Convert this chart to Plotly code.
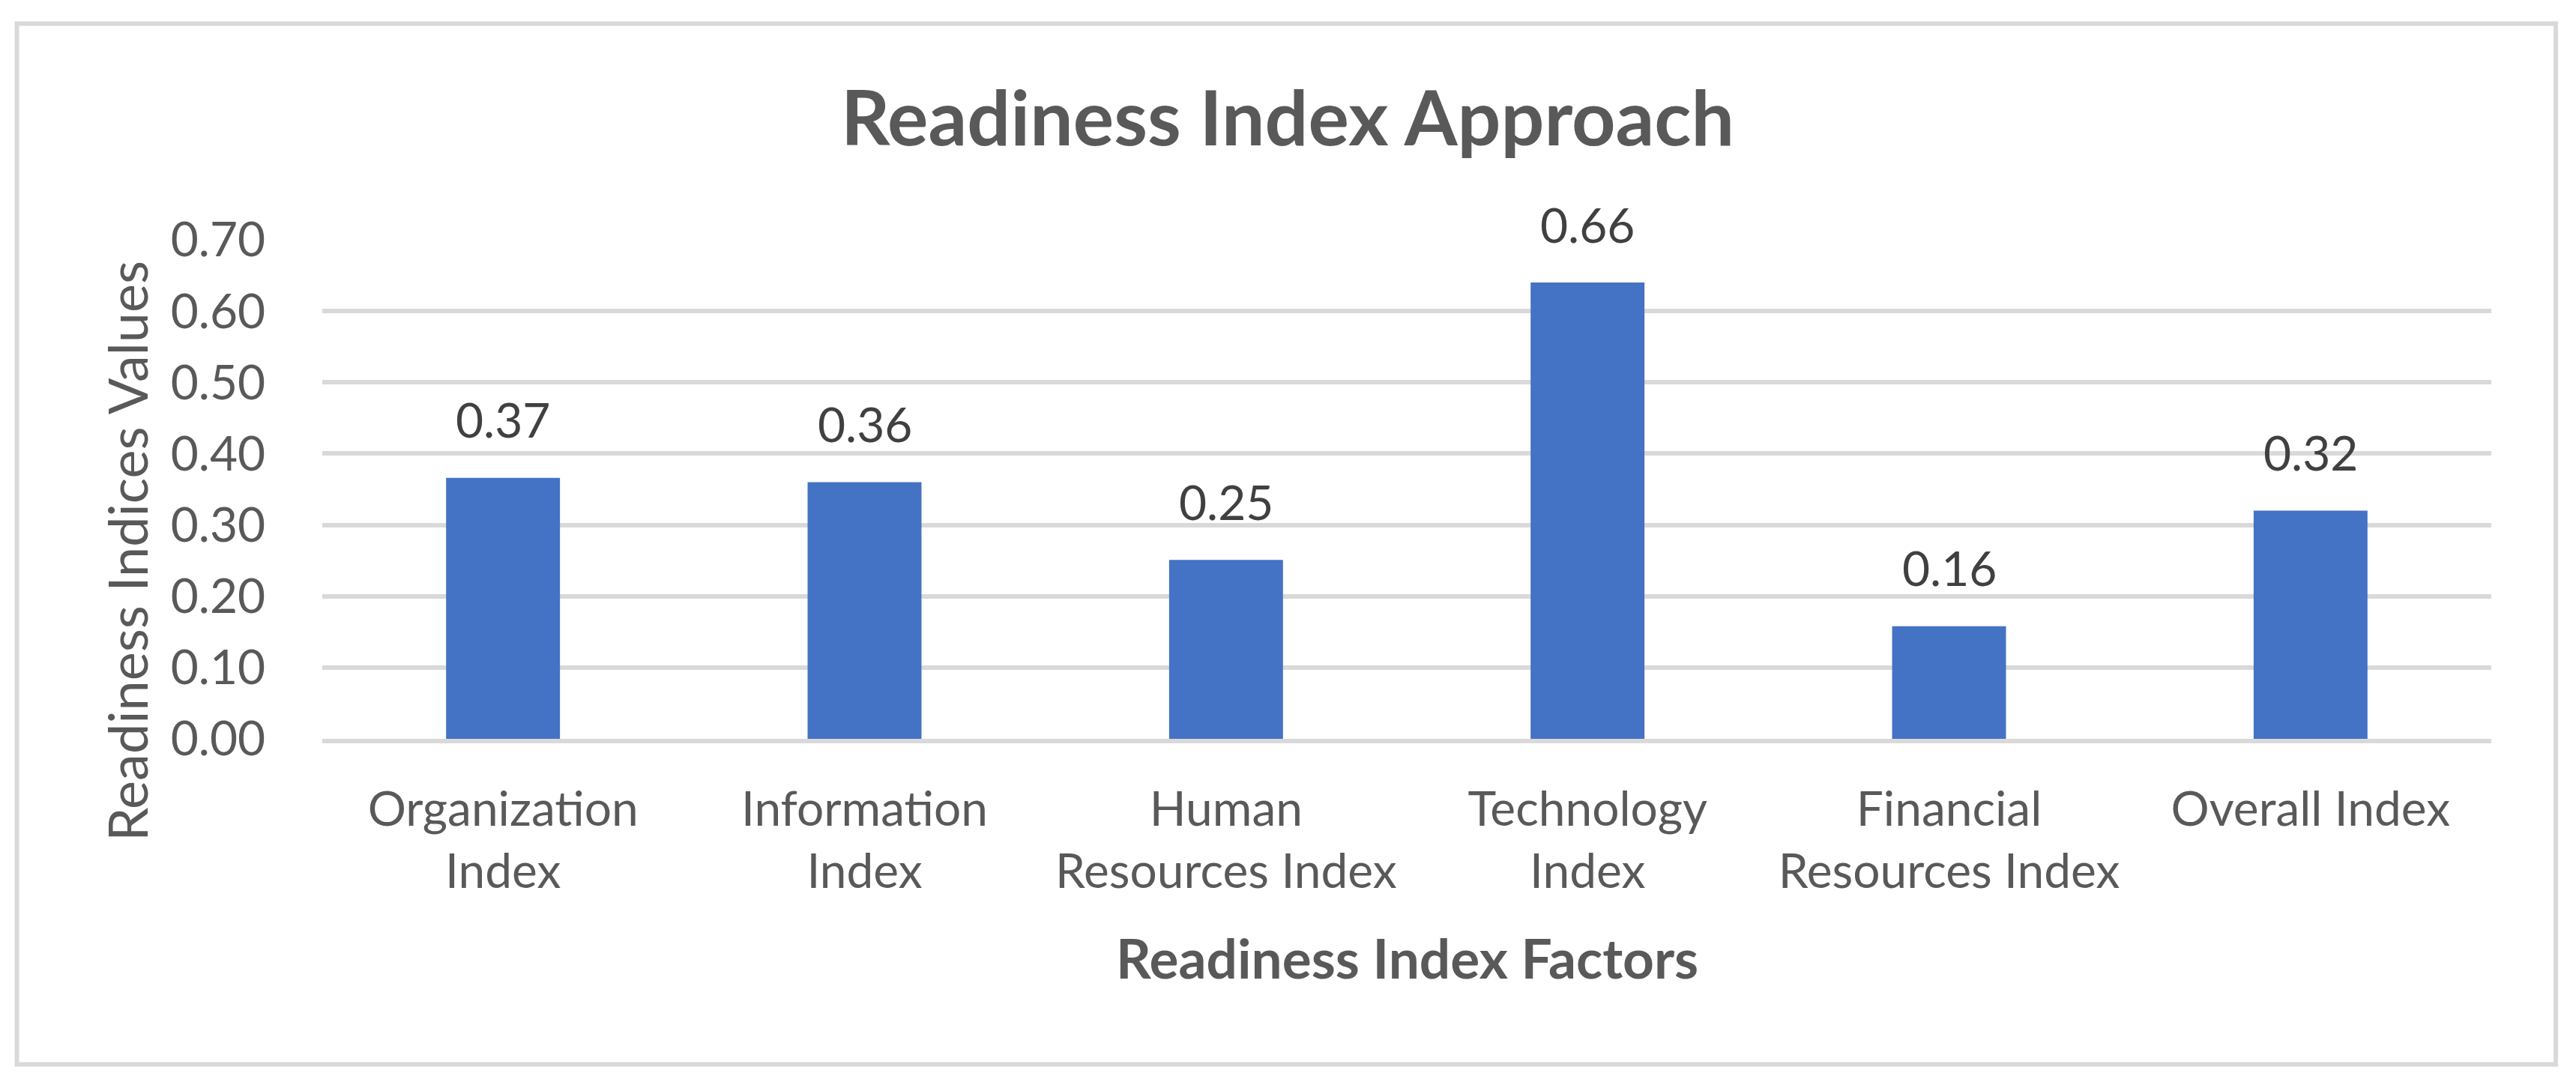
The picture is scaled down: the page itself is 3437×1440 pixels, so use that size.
import plotly.graph_objects as go

categories = ["Organization<br>Index", "Information<br>Index", "Human<br>Resources Index",
              "Technology<br>Index", "Financial<br>Resources Index", "Overall Index"]
values = [0.366, 0.360, 0.251, 0.640, 0.158, 0.320]
labels = ["0.37", "0.36", "0.25", "0.66", "0.16", "0.32"]
y_ticks = [0.0, 0.1, 0.2, 0.3, 0.4, 0.5, 0.6, 0.7]

FONT = "Lato"
GREY = "#595959"

fig = go.Figure()
fig.add_trace(go.Bar(x=categories, y=values, marker_color="#4472C4",
                     marker_line_width=0, hoverinfo="skip"))

for c, v, t in zip(categories, values, labels):
    fig.add_annotation(x=c, y=v, text=t, showarrow=False, yanchor="middle",
                       yshift=78, font=dict(family=FONT, size=64, color="#404040"))

# y axis title
fig.add_annotation(xref="paper", yref="paper", x=-0.0905, y=0.376, text="Readiness Indices Values",
                   textangle=-90, showarrow=False, xanchor="center", yanchor="middle",
                   font=dict(family=FONT, size=72, color=GREY))
# x axis title
fig.add_annotation(xref="paper", yref="paper", x=0.5, y=-0.4377, text="<b>Readiness Index Factors</b>",
                   showarrow=False, xanchor="center", yanchor="middle",
                   font=dict(family=FONT, size=73, color=GREY))

# outer chart border
fig.add_shape(type="rect", xref="paper", yref="paper", x0=-0.1408, x1=1.0297, y0=-0.6524, y1=1.4332,
              line=dict(color="#D9D9D9", width=6), fillcolor="rgba(0,0,0,0)", layer="below")

fig.update_layout(
    width=3437, height=1440,
    margin=dict(l=422, r=121, t=312, b=462),
    paper_bgcolor="white", plot_bgcolor="white",
    bargap=0.685,
    showlegend=False,
    title=dict(text="<b>Readiness Index Approach</b>", x=1710 / 3437, xanchor="center", y=1 - 150 / 1440,
               yanchor="middle", font=dict(family=FONT, size=102, color=GREY)),
    font=dict(family=FONT, color=GREY),
)
fig.update_yaxes(range=[0, 0.7], tickvals=y_ticks, tickformat=".2f",
                 showgrid=True, gridcolor="#D9D9D9", gridwidth=6, zeroline=False,
                 showline=False, ticks="outside", ticklen=62, tickcolor="rgba(0,0,0,0)",
                 tickfont=dict(family=FONT, size=64, color=GREY))
fig.update_xaxes(showgrid=False, showline=True, linecolor="#D9D9D9", linewidth=6,
                 ticks="outside", ticklen=33, tickcolor="rgba(0,0,0,0)",
                 tickfont=dict(family=FONT, size=64, color=GREY))

fig.write_html("out.html")
